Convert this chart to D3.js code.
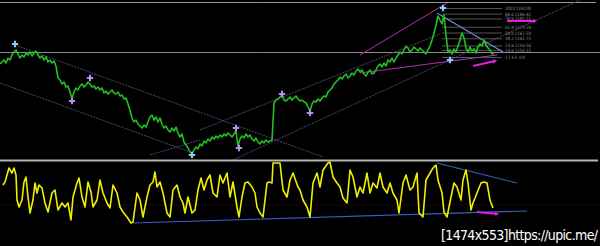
<!DOCTYPE html>
<html>
<head>
<meta charset="utf-8">
<script src="https://cdn.jsdelivr.net/npm/d3@7"></script>
<style>
  body { margin: 0; background: #000; }
  svg { display: block; }
</style>
</head>
<body>
<svg id="Vis" width="600" height="246"></svg>
<script>
/*
* DATA
*/

// main price series, one bar every 2 px
const prices = [
  1136,1138,1140,1137,1142,1140,1145,1148,1150,1146,1142,1145,1143,1147,1145,1148,1144,1147,1149,1145,
  1142,1144,1140,1143,1138,1140,1137,1139,1134,1122,1120,1116,1118,1113,1114,1108,1101,1108,1112,1110,
  1114,1116,1113,1115,1118,1116,1113,1114,1111,1113,1110,1112,1107,1109,1106,1108,1110,1107,1106,1108,
  1104,1105,1101,1102,1096,1090,1082,1078,1080,1076,1074,1072,1075,1073,1078,1083,1085,1080,1083,1078,
  1082,1076,1072,1074,1070,1068,1072,1069,1073,1067,1063,1066,1058,1055,1052,1048,1046,1050,1053,1051,
  1056,1054,1059,1057,1061,1059,1063,1061,1064,1062,1065,1063,1066,1064,1067,1065,1063,1066,1069,1054,
  1061,1064,1062,1066,1063,1065,1061,1059,1062,1058,1056,1059,1057,1060,1058,1059,1060,1097,1100,1101,
  1103,1105,1100,1099,1101,1103,1100,1102,1104,1101,1099,1100,1098,1097,1093,1089,1096,1099,1098,1101,
  1099,1102,1104,1103,1108,1110,1112,1116,1118,1120,1123,1121,1124,1126,1122,1124,1127,1125,1129,1131,
  1128,1130,1126,1124,1128,1130,1126,1127,1130,1134,1136,1133,1137,1134,1140,1138,1142,1138,1142,1145,
  1148,1146,1150,1154,1152,1148,1150,1153,1151,1149,1152,1150,1148,1146,1150,1154,1160,1167,1175,1184,
  1180,1176,1185,1165,1148,1150,1146,1151,1148,1154,1160,1167,1162,1152,1148,1153,1149,1151,1147,1153,
  1156,1154,1160,1155,1152,1150,1146,1147
];
const barWidth = 2;

// oscillator (bar position, value)
const oscBars = [
  3,5,7,9,12,14,16,17,19,22,24,26,28,30,33,35,37,39,42,45,48,52,55,58,62,65,68,71,73,77,79,82,85,88,91,93,
  97,100,103,107,110,113,117,120,123,127,131,133,137,140,143,147,150,153,155,157,160,163,167,170,173,177,
  180,183,185,188,192,195,198,201,204,207,210,213,217,220,223,227,230,233,237,239,242,245,248,252,255,257,
  260,263,267,269,272,273,280,283,287,290,293,298,300,303,307,310,313,317,320,323,328,330,333,337,340,343,
  347,350,353,357,360,363,367,370,373,377,380,383,387,390,393,397,399,403,406,410,413,417,419,423,426,430,
  433,436,438,442,444,447,451,454,457,461,463,466,468,471,473,477,481,484,487,490,493
];
const oscValues = [
  45,48,55,62,57,62,55,30,23,30,48,53,33,17,30,47,37,45,42,27,18,37,40,20,27,23,27,10,33,47,52,33,23,48,38,23,
  30,50,37,27,22,45,37,23,18,13,7,8,37,30,13,33,45,48,58,43,48,37,17,13,40,45,
  33,27,17,33,17,20,40,52,40,50,55,37,33,55,47,57,33,48,23,13,33,47,48,43,37,23,
  17,13,47,48,47,67,67,40,33,50,57,43,40,30,23,13,47,57,43,60,67,68,53,47,43,32,
  27,60,53,33,43,37,57,37,47,42,57,43,37,47,37,30,17,47,55,40,43,57,17,13,50,57,
  62,65,50,37,18,13,33,47,43,30,50,60,47,20,27,37,47,48,47,30,22
];

// trend lines [bar, price, bar, price]
const channelLines = [
  [15, 1155, 323, 1043],
  [0, 1117, 193, 1047],
  [150, 1045, 200, 1060],
  [233, 1040, 580, 1200],
  [200, 1070, 440, 1166]
];
const wedgeLines = [
  [360, 1145, 447, 1197],
  [360, 1127, 497, 1145]
];
const triangleLine = [437, 1187, 503, 1148];

// fibonacci retracement
const fibHigh = 1192, fibLow = 1143;
const fibRatios = [1, 0.886, 0.786, 0.618, 0.5, 0.382, 0.236, 0.146, 0];
const fibStart = 442, fibEnd = 502;

const lastPrice = 1148;

// fractal markers [bar, price]
const upFractals = [[15, 1156], [192, 1045], [443, 1192], [450, 1140]];
const swingMarks = [[72, 1099], [90, 1122], [236, 1072], [239, 1052], [282, 1106], [310, 1087]];

// oscillator lines [bar, value, bar, value]
const oscSupport = [133, 7, 527, 19];
const oscResist = [437, 67, 517, 47];
const oscLevel = 25;

// arrows
const priceArrows = [[507, 1179, 535, 1179], [473, 1134, 495, 1139]];
const oscArrows = [[477, 18, 497, 16]];


/*
* SETUP
*/

const svg = d3.select("svg#Vis");
const W = 600;

svg.append("rect").attr("width", W).attr("height", 246).attr("fill", "#000");

const x = d3.scaleLinear().domain([0, 600]).range([0, 600]);
const y = d3.scaleLinear().domain([1040, 1200]).range([160, 0]);
const yo = d3.scaleLinear().domain([0, 70]).range([230, 160]);

const defs = svg.append("defs");
defs.append("marker")
  .attr("id", "head")
  .attr("viewBox", "0 0 10 10")
  .attr("refX", 5).attr("refY", 5)
  .attr("markerWidth", 2.2).attr("markerHeight", 2.2)
  .attr("orient", "auto")
  .append("path").attr("d", "M0,0L10,5L0,10z").attr("fill", "#e020e0");

const main = svg.append("g").attr("id", "main");
const osc = svg.append("g").attr("id", "osc");


/*
* MAIN PANEL
*/

// frame lines
main.append("line")
  .attr("x1", 0).attr("x2", 596).attr("y1", 2.5).attr("y2", 2.5)
  .attr("stroke", "#9a9a9a").attr("stroke-width", 1);

main.append("line")
  .attr("x1", 0).attr("x2", W).attr("y1", y(lastPrice) + 0.5).attr("y2", y(lastPrice) + 0.5)
  .attr("stroke", "#8a8a8a").attr("stroke-width", 1);

// channels
main.selectAll("line.channel")
  .data(channelLines)
  .join("line")
  .attr("class", "channel")
  .attr("x1", d => x(d[0])).attr("y1", d => y(d[1]))
  .attr("x2", d => x(d[2])).attr("y2", d => y(d[3]))
  .attr("stroke", "#4a4a78").attr("stroke-width", 1)
  .attr("stroke-dasharray", "2,1");

main.selectAll("line.wedge")
  .data(wedgeLines)
  .join("line")
  .attr("class", "wedge")
  .attr("x1", d => x(d[0])).attr("y1", d => y(d[1]))
  .attr("x2", d => x(d[2])).attr("y2", d => y(d[3]))
  .attr("stroke", "#b030b0").attr("stroke-width", 1);

// fibo levels
const fib = main.append("g").attr("id", "fib");
fib.selectAll("line")
  .data(fibRatios)
  .join("line")
  .attr("x1", x(fibStart)).attr("x2", x(fibEnd))
  .attr("y1", d => y(fibLow + d * (fibHigh - fibLow)) + 0.5)
  .attr("y2", d => y(fibLow + d * (fibHigh - fibLow)) + 0.5)
  .attr("stroke", "#6a6a6a").attr("stroke-width", 0.8);

fib.selectAll("text")
  .data(fibRatios)
  .join("text")
  .attr("x", x(fibEnd) + 3)
  .attr("y", d => y(fibLow + d * (fibHigh - fibLow)) + 2)
  .attr("fill", "#8c8c8c")
  .attr("font-family", "DejaVu Sans Condensed, sans-serif")
  .attr("font-size", 4.5)
  .attr("textLength", d => d === 0 ? 20 : 26)
  .text(d => d === 0 ? (fibLow).toFixed(2) : (d * 100).toFixed(1) + " " + (fibLow + d * (fibHigh - fibLow)).toFixed(2));

// triangle line
main.append("line")
  .attr("x1", x(triangleLine[0])).attr("y1", y(triangleLine[1]))
  .attr("x2", x(triangleLine[2])).attr("y2", y(triangleLine[3]))
  .attr("stroke", "#6f8fd8").attr("stroke-width", 1.2);

// price line
const priceLine = d3.line()
  .x((d, i) => x(i * barWidth))
  .y(d => y(d));

main.append("path")
  .datum(prices)
  .attr("d", priceLine)
  .attr("fill", "none")
  .attr("stroke", "#22c022")
  .attr("stroke-width", 1.6)
  .attr("stroke-linejoin", "round");

// markers
const star = d3.symbol().type(d3.symbolCross).size(22);
main.selectAll("path.up")
  .data(upFractals)
  .join("path")
  .attr("class", "up")
  .attr("transform", d => translate(x(d[0]), y(d[1])))
  .attr("d", star)
  .attr("fill", "#8cc8ff");

main.selectAll("path.swing")
  .data(swingMarks)
  .join("path")
  .attr("class", "swing")
  .attr("transform", d => translate(x(d[0]), y(d[1])))
  .attr("d", star)
  .attr("fill", "#c08cf0");

// arrows
main.selectAll("line.arrow")
  .data(priceArrows)
  .join("line")
  .attr("class", "arrow")
  .attr("x1", d => x(d[0])).attr("y1", d => y(d[1]))
  .attr("x2", d => x(d[2])).attr("y2", d => y(d[3]))
  .attr("stroke", "#e020e0").attr("stroke-width", 2)
  .attr("marker-end", "url(#head)");


/*
* OSCILLATOR PANEL
*/

osc.append("line")
  .attr("x1", 0).attr("x2", 598).attr("y1", 160.5).attr("y2", 160.5)
  .attr("stroke", "#b4b4b4").attr("stroke-width", 2);

osc.append("line")
  .attr("x1", 0).attr("x2", W).attr("y1", yo(oscLevel)).attr("y2", yo(oscLevel))
  .attr("stroke", "#3a0a0a").attr("stroke-width", 1)
  .attr("stroke-dasharray", "1,1");

osc.selectAll("line.trend")
  .data([oscSupport, oscResist])
  .join("line")
  .attr("class", "trend")
  .attr("x1", d => x(d[0])).attr("y1", d => yo(d[1]))
  .attr("x2", d => x(d[2])).attr("y2", d => yo(d[3]))
  .attr("stroke", "#3c5cc8").attr("stroke-width", 1.2);

const oscLine = d3.line()
  .x((d, i) => x(oscBars[i]))
  .y(d => yo(d));

osc.append("path")
  .datum(oscValues)
  .attr("d", oscLine)
  .attr("fill", "none")
  .attr("stroke", "#f0f000")
  .attr("stroke-width", 1.6)
  .attr("stroke-linejoin", "round");

osc.selectAll("line.arrow")
  .data(oscArrows)
  .join("line")
  .attr("class", "arrow")
  .attr("x1", d => x(d[0])).attr("y1", d => yo(d[1]))
  .attr("x2", d => x(d[2])).attr("y2", d => yo(d[3]))
  .attr("stroke", "#e020e0").attr("stroke-width", 2)
  .attr("marker-end", "url(#head)");

// watermark
svg.append("text")
  .attr("x", 441).attr("y", 240)
  .attr("fill", "#ffffff")
  .attr("font-family", "DejaVu Sans Condensed, sans-serif")
  .attr("font-size", 14)
  .attr("textLength", 157)
  .text("[1474x553]https://upic.me/");


/*
* HELPER FUNCTIONS
*/

function translate(a, b) {
  return 'translate(' + String(a) + ',' + String(b) + ')';
}
</script>
</body>
</html>
